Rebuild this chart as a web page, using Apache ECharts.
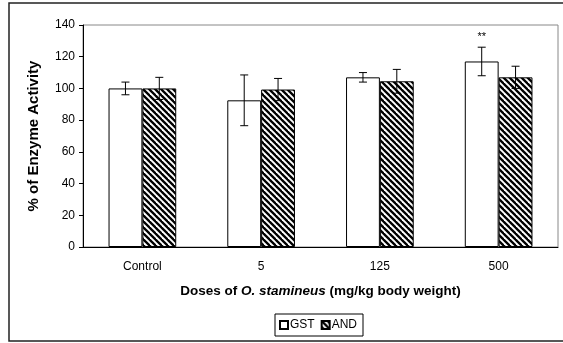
<!DOCTYPE html>
<html><head><meta charset="utf-8">
<script src="https://cdn.jsdelivr.net/npm/echarts@6/dist/echarts.min.js"></script>
<style>html,body{margin:0;padding:0;background:#fff}#c{width:563px;height:343px}</style>
</head><body><div id="c"></div>
<script>
const categories = ['Control', '5', '125', '500'];
const gstValues = [100, 92.5, 107, 117];
const gstErrors = [4, 16, 3, 9];
const andValues = [100, 99.3, 104.5, 107];
const andErrors = [7, 7, 7.5, 7];
const gstSignificance = ['', '', '', '**'];
const yTicks = {min: 0, max: 140, interval: 20};

const FONT = '"Liberation Sans", Arial, sans-serif';
const CAT_GAP = 0.43;

function hatch() {
  const c = document.createElement('canvas');
  c.width = 6; c.height = 6;
  const g = c.getContext('2d');
  g.fillStyle = '#fff'; g.fillRect(0, 0, 6, 6);
  g.strokeStyle = '#000'; g.lineWidth = 2.3;
  for (let k = -1; k <= 1; k++) {
    g.beginPath(); g.moveTo(k * 6 - 1, -1); g.lineTo(k * 6 + 7, 7); g.stroke();
  }
  return c;
}
const hatchFill = {image: hatch(), repeat: 'repeat'};

function errorSeries(values, errors, sign, labels) {
  return {
    type: 'custom',
    silent: true,
    z: 5,
    data: values.map((v, i) => [i, v, errors[i]]),
    renderItem: function (params, api) {
      const i = api.value(0), v = api.value(1), e = api.value(2);
      const band = api.size([1, 0])[0];
      const bw = band * (1 - CAT_GAP) / 2;
      const c = api.coord([i, v]);
      const x = c[0] + sign * bw / 2;
      const top = api.coord([i, v + e])[1];
      const bot = api.coord([i, v - e])[1];
      const cap = 4;
      const st = {stroke: '#000', lineWidth: 1};
      const children = [
        {type: 'line', shape: {x1: x, y1: top, x2: x, y2: bot}, style: st},
        {type: 'line', shape: {x1: x - cap, y1: top, x2: x + cap, y2: top}, style: st},
        {type: 'line', shape: {x1: x - cap, y1: bot, x2: x + cap, y2: bot}, style: st}
      ];
      const lab = labels ? labels[params.dataIndex] : '';
      if (lab) {
        children.push({type: 'text', style: {text: lab, x: x, y: top - 5, align: 'center', verticalAlign: 'bottom',
          fill: '#000', font: '11px ' + FONT}});
      }
      return {type: 'group', children: children};
    }
  };
}

const chart = echarts.init(document.getElementById('c'), null, {renderer: 'canvas'});
chart.setOption({
  animation: false,
  backgroundColor: '#fff',
  textStyle: {fontFamily: FONT},
  graphic: [{type: 'rect', shape: {x: 9, y: 3, width: 600, height: 338}, style: {fill: 'none', stroke: '#222', lineWidth: 1.5}, z: -1}],
  grid: {left: 83, top: 25, right: 5, bottom: 96, show: true, borderColor: '#888', borderWidth: 1, backgroundColor: '#fff'},
  legend: {
    left: 275, top: 314, orient: 'horizontal', itemWidth: 8, itemHeight: 8, itemGap: 6,
    borderColor: '#000', borderWidth: 1, padding: [5, 6, 5, 4],
    icon: 'rect',
    textStyle: {fontSize: 12, color: '#000', fontFamily: FONT, padding: [0, 0, 0, -3]},
    data: ['GST', 'AND']
  },
  xAxis: {
    type: 'category', data: categories,
    axisLine: {lineStyle: {color: '#000'}},
    axisTick: {length: 4, lineStyle: {color: '#000'}},
    axisLabel: {fontSize: 12, color: '#000', margin: 14},
    name: '{b|Doses of }{bi|O. stamineus}{b| (mg/kg body weight)}',
    nameLocation: 'middle', nameGap: 37,
    nameTextStyle: {rich: {
      b: {fontWeight: 'bold', fontSize: 13.5, color: '#000', fontFamily: FONT},
      bi: {fontWeight: 'bold', fontStyle: 'italic', fontSize: 13.5, color: '#000', fontFamily: FONT}
    }}
  },
  yAxis: {
    type: 'value', min: yTicks.min, max: yTicks.max, interval: yTicks.interval,
    axisLine: {show: true, lineStyle: {color: '#000'}},
    axisTick: {show: true, length: 4, lineStyle: {color: '#000'}},
    splitLine: {show: false},
    axisLabel: {fontSize: 12, color: '#000', margin: 8},
    name: '% of Enzyme Activity', nameLocation: 'middle', nameGap: 42,
    nameTextStyle: {fontWeight: 'bold', fontSize: 15, color: '#000'}
  },
  series: [
    {name: 'GST', type: 'bar', data: gstValues, barGap: '0%', barCategoryGap: (CAT_GAP * 100) + '%',
      itemStyle: {color: '#fff', borderColor: '#000', borderWidth: 1}},
    {name: 'AND', type: 'bar', data: andValues, barGap: '0%', barCategoryGap: (CAT_GAP * 100) + '%',
      itemStyle: {color: hatchFill, borderColor: '#000', borderWidth: 1}},
    errorSeries(gstValues, gstErrors, -1, gstSignificance),
    errorSeries(andValues, andErrors, 1, null)
  ]
});
</script></body></html>
